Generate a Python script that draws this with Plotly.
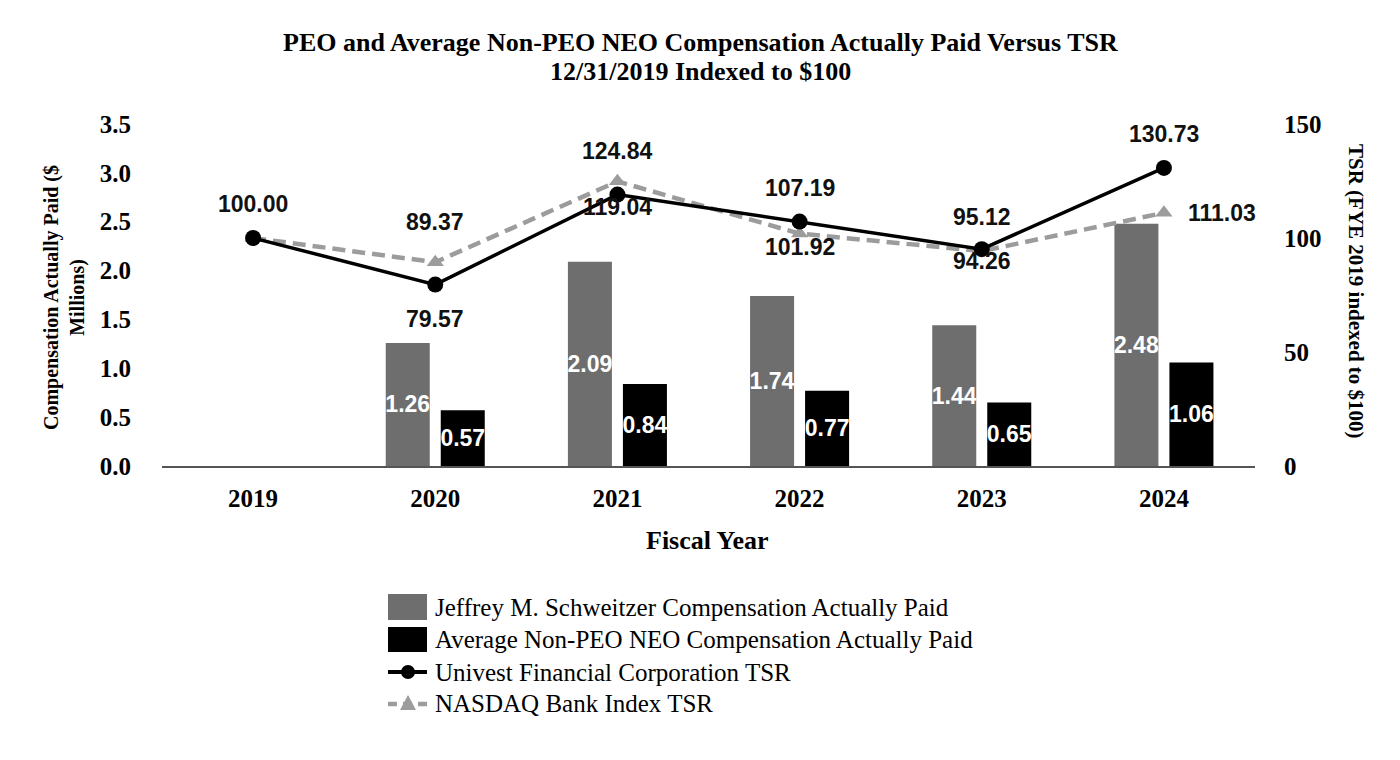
import plotly.graph_objects as go

years = ["2019", "2020", "2021", "2022", "2023", "2024"]
peo_cap = [None, 1.26, 2.09, 1.74, 1.44, 2.48]
neo_cap = [None, 0.57, 0.84, 0.77, 0.65, 1.06]
univest_tsr = [100.00, 79.57, 119.04, 107.19, 95.12, 130.73]
nasdaq_tsr = [100.00, 89.37, 124.84, 101.92, 94.26, 111.03]

left_ticks = [0.0, 0.5, 1.0, 1.5, 2.0, 2.5, 3.0, 3.5]
right_ticks = [0, 50, 100, 150]

legend_names = ["Jeffrey M. Schweitzer Compensation Actually Paid",
                "Average Non-PEO NEO Compensation Actually Paid",
                "Univest Financial Corporation TSR",
                "NASDAQ Bank Index TSR"]

SERIF = "Liberation Serif"
SANS = "Liberation Sans"
GRAY_BAR = "#6e6e6e"
GRAY_LINE = "#9c9c9c"

# page offset compensation (browser body margin)
OFF = 8
W, H = 1400 - OFF, 760 - OFF
PL, PR, PT, PB = 162 - OFF, 1255 - OFF, 124 - OFF, 466 - OFF


def px(xpage):
    return (xpage - OFF - PL) / (PR - PL)


def py(ypage):
    return (PB - (ypage - OFF)) / (PB - PT)


fig = go.Figure()
fig.add_trace(go.Bar(
    x=years, y=peo_cap, name=legend_names[0],
    marker=dict(color=GRAY_BAR, line=dict(width=0)),
    text=[None if v is None else f"{v:.2f}" for v in peo_cap],
    textposition="inside", insidetextanchor="middle", textangle=0,
    textfont=dict(family=SANS, size=23, color="white", weight="bold"),
    yaxis="y", cliponaxis=False, showlegend=False,
))
fig.add_trace(go.Bar(
    x=years, y=neo_cap, name=legend_names[1],
    marker=dict(color="#000000", line=dict(width=0)),
    text=[None if v is None else f"{v:.2f}" for v in neo_cap],
    textposition="inside", insidetextanchor="middle", textangle=0,
    textfont=dict(family=SANS, size=23, color="white", weight="bold"),
    yaxis="y", cliponaxis=False, showlegend=False,
))
fig.add_trace(go.Scatter(
    x=years, y=nasdaq_tsr, name=legend_names[3], yaxis="y2",
    mode="lines+markers",
    line=dict(color=GRAY_LINE, width=4.5, dash="13px,7px"),
    marker=dict(symbol="triangle-up", size=15, color=GRAY_LINE),
    cliponaxis=False, showlegend=False,
))
fig.add_trace(go.Scatter(
    x=years, y=univest_tsr, name=legend_names[2], yaxis="y2",
    mode="lines+markers",
    line=dict(color="#000000", width=3.5),
    marker=dict(symbol="circle", size=16, color="#000000"),
    cliponaxis=False, showlegend=False,
))

# label offsets (pixels): (xshift, yshift)
univest_offsets = [(0, 34), (0, -34), (0, -12), (0, 34), (0, 32), (0, 34)]
nasdaq_offsets = [None, (0, 40), (0, 30), (0, -13), (0, -10), (58, 0)]

LABEL_FONT = dict(family=SANS, size=23, color="#111111", weight="bold")
annotations = []
for i, v in enumerate(univest_tsr):
    dx, dy = univest_offsets[i]
    annotations.append(dict(x=i, y=v, xref="x", yref="y2", text=f"{v:.2f}",
                            xanchor="center", yanchor="middle",
                            showarrow=False, xshift=dx, yshift=dy, font=LABEL_FONT))
for i, v in enumerate(nasdaq_tsr):
    off = nasdaq_offsets[i]
    if off is None:
        continue
    dx, dy = off
    annotations.append(dict(x=i, y=v, xref="x", yref="y2", text=f"{v:.2f}",
                            xanchor="center", yanchor="middle",
                            showarrow=False, xshift=dx, yshift=dy, font=LABEL_FONT))


def paper_text(xp, yp, text, size, bold=True, angle=0, xanchor="center"):
    f = dict(family=SERIF, size=size, color="black")
    if bold:
        f["weight"] = "bold"
    return dict(x=px(xp), y=py(yp), xref="paper", yref="paper", text=text,
                textangle=angle, showarrow=False, xanchor=xanchor, yanchor="middle",
                font=f)


# axis titles
annotations.append(paper_text(64, 298, "Compensation Actually Paid ($<br>Millions)", 20, angle=-90))
annotations.append(paper_text(1356, 292, "TSR (FYE 2019 indexed to $100)", 21, angle=90))
# title lines
annotations.append(paper_text(700, 42, "PEO and Average Non-PEO NEO Compensation Actually Paid Versus TSR", 26))
annotations.append(paper_text(700, 72, "12/31/2019 Indexed to $100", 26))
# x axis title
annotations.append(paper_text(707, 540, "Fiscal Year", 26))

# manual legend
shapes = []
legend_rows = [607, 639, 672, 703]
LX0, LX1, LXT = 388, 427, 433
shapes.append(dict(type="rect", xref="paper", yref="paper",
                   x0=px(LX0), x1=px(LX1), y0=py(594), y1=py(620),
                   fillcolor=GRAY_BAR, line=dict(width=0)))
shapes.append(dict(type="rect", xref="paper", yref="paper",
                   x0=px(LX0), x1=px(LX1), y0=py(627), y1=py(652),
                   fillcolor="#000000", line=dict(width=0)))
shapes.append(dict(type="line", xref="paper", yref="paper",
                   x0=px(LX0), x1=px(LX1), y0=py(legend_rows[2]), y1=py(legend_rows[2]),
                   line=dict(color="#000000", width=4)))
shapes.append(dict(type="circle", xref="paper", yref="paper",
                   x0=px(401), x1=px(415), y0=py(legend_rows[2] - 7), y1=py(legend_rows[2] + 7),
                   fillcolor="#000000", line=dict(width=0)))
shapes.append(dict(type="line", xref="paper", yref="paper",
                   x0=px(LX0), x1=px(LX1), y0=py(legend_rows[3] + 1), y1=py(legend_rows[3] + 1),
                   line=dict(color=GRAY_LINE, width=4.5, dash="9px,6px")))
tri_cx, tri_cy = 408, legend_rows[3]
shapes.append(dict(type="path", xref="paper", yref="paper",
                   path=(f"M {px(tri_cx - 8)} {py(tri_cy + 7)} L {px(tri_cx + 8)} {py(tri_cy + 7)} "
                         f"L {px(tri_cx)} {py(tri_cy - 8)} Z"),
                   fillcolor=GRAY_LINE, line=dict(width=0)))
for name, row in zip(legend_names, legend_rows):
    annotations.append(paper_text(LXT, row, name, 25, bold=False, xanchor="left"))

fig.update_layout(
    width=W, height=H,
    paper_bgcolor="white", plot_bgcolor="white",
    margin=dict(l=PL, r=W - PR, t=PT, b=H - PB, autoexpand=False),
    barmode="group", bargap=0.396, bargroupgap=0.2,
    uniformtext=dict(minsize=23, mode="show"),
    xaxis=dict(type="category", range=[-0.5, 5.5], showgrid=False,
               showline=True, linecolor="#555555", linewidth=2, ticks="",
               tickfont=dict(family=SERIF, size=25, color="black", weight="bold"),
               ticklabelstandoff=9),
    yaxis=dict(range=[0, 3.5], tickvals=left_ticks, ticktext=[f"{t:.1f}" for t in left_ticks],
               showgrid=False, zeroline=False, showline=False, ticks="",
               ticklabelstandoff=30,
               tickfont=dict(family=SERIF, size=25, color="black", weight="bold")),
    yaxis2=dict(range=[0, 150], tickvals=right_ticks, overlaying="y", side="right",
                showgrid=False, zeroline=False, showline=False, ticks="",
                ticklabelstandoff=28,
                tickfont=dict(family=SERIF, size=25, color="black", weight="bold")),
    annotations=annotations,
    shapes=shapes,
    showlegend=False,
)

fig.write_html("out.html")
